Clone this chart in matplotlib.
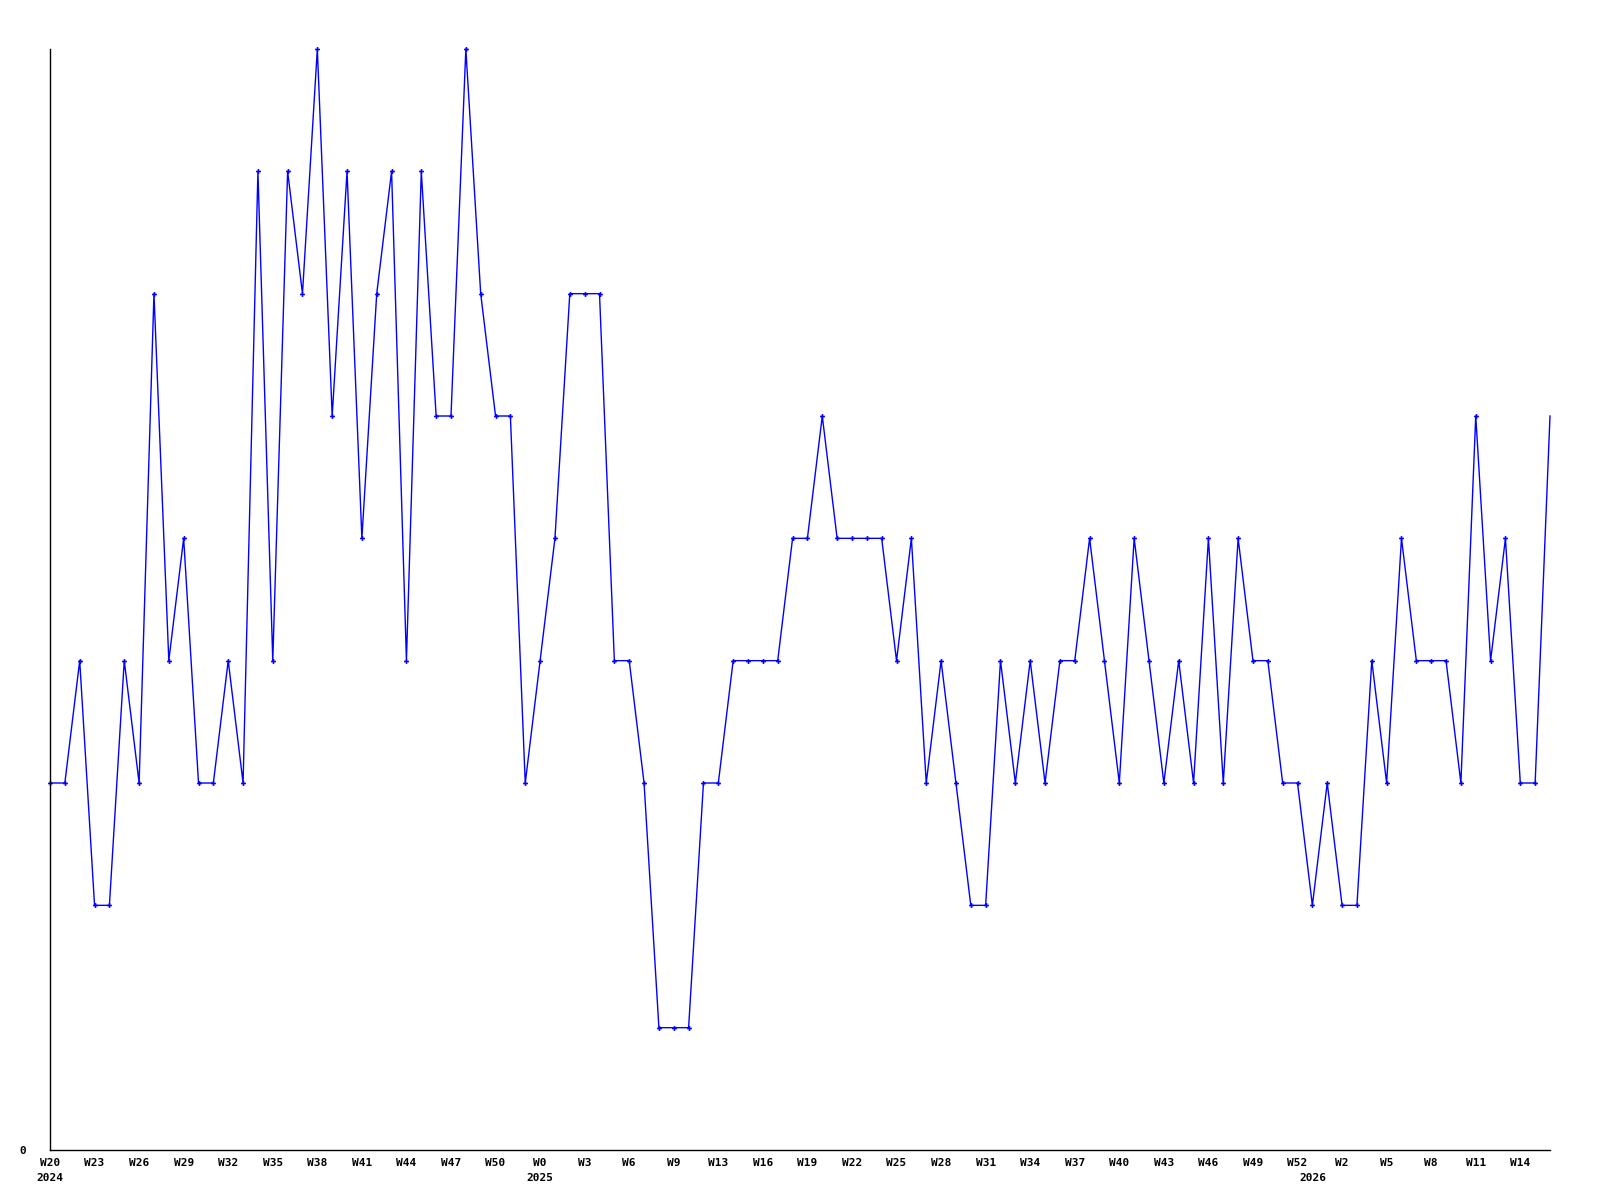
import matplotlib
matplotlib.use("Agg")
import matplotlib.pyplot as plt
import numpy as np

# weekly values, W20 2024 .. W15 2026
values = [3, 3, 4, 2, 2, 4, 3, 7, 4, 5,
          3, 3, 4, 3, 8, 4, 8, 7, 9, 6,
          8, 5, 7, 8, 4, 8, 6, 6, 9, 7,
          6, 6, 3, 4, 5, 7, 7, 7, 4, 4,
          3, 1, 1, 1, 3, 3, 4, 4, 4, 4,
          5, 5, 6, 5, 5, 5, 5, 4, 5, 3,
          4, 3, 2, 2, 4, 3, 4, 3, 4, 4,
          5, 4, 3, 5, 4, 3, 4, 3, 5, 3,
          5, 4, 4, 3, 3, 2, 3, 2, 2, 4,
          3, 5, 4, 4, 4, 3, 6, 4, 5, 3,
          3, 6]

week_labels = ["W20", "W23", "W26", "W29", "W32", "W35", "W38", "W41", "W44",
               "W47", "W50", "W0", "W3", "W6", "W9", "W13", "W16", "W19",
               "W22", "W25", "W28", "W31", "W34", "W37", "W40", "W43", "W46",
               "W49", "W52", "W2", "W5", "W8", "W11", "W14"]

# year label and the week index where it starts
years = ["2024", "2025", "2026"]
year_pos = [0, 33, 85]

x = np.arange(len(values))

fig = plt.figure(figsize=(16, 12), dpi=100)
ax = fig.add_axes([50 / 1600, 1 - 1150 / 1200, 1500 / 1600, 1101 / 1200])

ax.plot(x, values, color="#0000ff", linewidth=1.0, marker="P", markersize=3.5,
        markeredgewidth=0, markevery=list(range(len(values) - 1)), clip_on=False)

ax.set_xlim(0, len(values) - 1)
ax.set_ylim(0, max(values))

font = dict(family="DejaVu Sans Mono", fontweight="bold", fontsize=8)

ax.set_xticks(x[::3])
ax.set_xticklabels(week_labels, **font)
ax.set_yticks([0])
ax.set_yticklabels(["0"], **font)
ax.tick_params(axis="both", length=0)
ax.tick_params(axis="x", pad=6)
ax.tick_params(axis="y", pad=17)

for yr, p in zip(years, year_pos):
    ax.text(p, -0.19, yr, ha="center", va="top", **font)

for s in ["top", "right"]:
    ax.spines[s].set_visible(False)
for s in ["left", "bottom"]:
    ax.spines[s].set_linewidth(1.0)
    ax.spines[s].set_color("black")

fig.savefig("out.png", dpi=100, facecolor="white")
